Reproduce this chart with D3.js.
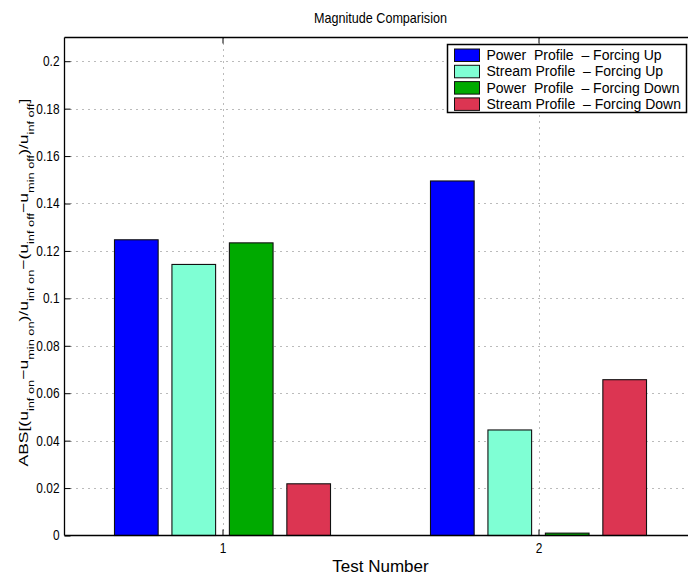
<!DOCTYPE html>
<html>
<head>
<meta charset="utf-8">
<script src="https://cdn.jsdelivr.net/npm/d3@7"></script>
<style>
  html, body { margin: 0; padding: 0; background: #fff; }
  svg { display: block; font-family: "Liberation Sans", Arial, Helvetica, sans-serif; }
  text { white-space: pre; }
</style>
</head>
<body>
<svg id="chart" width="688" height="580"></svg>
<script>
// ---- data ----
const categories = [1, 2];
const seriesNames = [
  "Power  Profile  \u2013 Forcing Up",
  "Stream Profile  \u2013 Forcing Up",
  "Power  Profile  \u2013 Forcing Down",
  "Stream Profile  \u2013 Forcing Down"
];
const powerUp    = [0.1247, 0.1495];
const streamUp   = [0.1143, 0.0445];
const powerDown  = [0.1234, 0.0010];
const streamDown = [0.0218, 0.0657];
const seriesColors = ["#0000ff", "#7fffd4", "#00aa00", "#dc3552"];
const yTicks = [0, 0.02, 0.04, 0.06, 0.08, 0.1, 0.12, 0.14, 0.16, 0.18, 0.2];
const xTicks = [1, 2];
const titleText = "Magnitude Comparision";
const xLabelText = "Test Number";

const seriesValues = [powerUp, streamUp, powerDown, streamDown];

// ---- layout ----
const svg = d3.select("#chart");
const mLeft = 64.5, mRight = 696.5, mTop = 37.5, mBottom = 535.5;
const squeeze = 0.85;

const x = d3.scaleLinear().domain([0.5, 2.5]).range([mLeft, mRight]);
const y = d3.scaleLinear().domain([0, 0.21]).range([mBottom, mTop]);

const groupWidth = Math.min(0.8, 4 / (4 + 1.5));
const slot = groupWidth / 4;
const barW = slot * 0.76;

// grid lines
const grid = svg.append("g");
grid.selectAll("line.gy").data(yTicks.filter(d => d > 0)).join("line")
  .attr("x1", mLeft).attr("x2", mRight)
  .attr("y1", d => Math.round(y(d)) + 0.5).attr("y2", d => Math.round(y(d)) + 0.5)
  .attr("stroke", "#777").attr("stroke-width", 1).attr("stroke-dasharray", "1,5");
grid.selectAll("line.gx").data(xTicks).join("line")
  .attr("x1", d => Math.round(x(d)) + 0.5).attr("x2", d => Math.round(x(d)) + 0.5)
  .attr("y1", mTop).attr("y2", mBottom)
  .attr("stroke", "#777").attr("stroke-width", 1).attr("stroke-dasharray", "1,5");

// bars
const bars = svg.append("g");
seriesValues.forEach((vals, si) => {
  bars.selectAll(null).data(vals.map((v, i) => ({ c: categories[i], v }))).join("rect")
    .attr("x", d => x(d.c + (si - 1.5) * slot - barW / 2))
    .attr("width", d => x(d.c + barW / 2) - x(d.c - barW / 2))
    .attr("y", d => y(d.v))
    .attr("height", d => y(0) - y(d.v))
    .attr("fill", seriesColors[si])
    .attr("stroke", "#111").attr("stroke-width", 1.1);
});

// axes (box)
const yAxis = d3.axisLeft(y).tickValues(yTicks).tickSize(-6).tickPadding(5)
  .tickFormat(d => d === 0 ? "0" : String(+d.toFixed(2)));
const gy = svg.append("g").attr("transform", `translate(${mLeft},0)`).call(yAxis);
gy.select(".domain").remove();
gy.selectAll("text").attr("font-size", 14).attr("fill", "#000")
  .attr("font-family", "Liberation Sans, Arial, sans-serif")
  .attr("x", -5 / squeeze).attr("transform", `scale(${squeeze},1)`);
gy.selectAll(".tick line").attr("stroke", "#000");

const xAxis = d3.axisBottom(x).tickValues(xTicks).tickSize(-6).tickPadding(8)
  .tickFormat(d3.format("d"));
const gx = svg.append("g").attr("transform", `translate(0,${mBottom})`).call(xAxis);
gx.select(".domain").remove();
gx.selectAll("text").attr("font-size", 14).attr("fill", "#000")
  .attr("font-family", "Liberation Sans, Arial, sans-serif")
  .attr("transform", `scale(${squeeze},1)`);
gx.selectAll(".tick line").attr("stroke", "#000");

const xTop = d3.axisTop(x).tickValues(xTicks).tickSize(-6).tickFormat("");
const gxt = svg.append("g").attr("transform", `translate(0,${mTop})`).call(xTop);
gxt.select(".domain").remove();
gxt.selectAll(".tick line").attr("stroke", "#000");

svg.append("line").attr("x1", mLeft).attr("x2", mRight).attr("y1", mBottom).attr("y2", mBottom)
  .attr("stroke", "#000").attr("stroke-width", 1.3);
svg.append("line").attr("x1", mLeft).attr("x2", mRight).attr("y1", mTop).attr("y2", mTop)
  .attr("stroke", "#000").attr("stroke-width", 1.3);
svg.append("line").attr("x1", mLeft).attr("x2", mLeft).attr("y1", mTop).attr("y2", mBottom)
  .attr("stroke", "#000").attr("stroke-width", 1.3);

// title and labels
const cx = (mLeft + mRight) / 2;
svg.append("text").attr("transform", `translate(${cx},23) scale(0.9,1)`)
  .attr("text-anchor", "middle").attr("font-size", 14).text(titleText);
svg.append("text").attr("x", cx).attr("y", 572).attr("text-anchor", "middle")
  .attr("font-size", 17).text(xLabelText);

// y label with subscripts
const yl = svg.append("text")
  .attr("transform", `translate(27.5,${(mTop + mBottom) / 2 - 4}) rotate(-90) scale(1,0.74)`)
  .attr("text-anchor", "middle").attr("font-size", 17.5);
const parts = [
  ["ABS[(u", false], ["inf on", true], ["\u2212u", false], ["min on", true],
  [")/u", false], ["inf on", true], ["\u2212(u", false], ["inf off", true],
  ["\u2212u", false], ["min off", true], [")/u", false], ["inf off", true], ["]", false]
];
let wasSub = false;
parts.forEach(([t, sub]) => {
  const ts = yl.append("tspan").text(t);
  if (sub) { ts.attr("font-size", 12.8); if (!wasSub) ts.attr("dy", 9); }
  else if (wasSub) ts.attr("dy", -9);
  wasSub = sub;
});

// legend
const lg = svg.append("g");
const lx = 447.5, ly = 44.5, lw = 239, lh = 68;
lg.append("rect").attr("x", lx).attr("y", ly).attr("width", lw).attr("height", lh)
  .attr("fill", "#fff").attr("stroke", "#000").attr("stroke-width", 1.5);
seriesNames.forEach((name, i) => {
  const ry = ly + 10.5 + i * 16.3;
  lg.append("rect").attr("x", 454.5).attr("y", ry - 6).attr("width", 25).attr("height", 12.5)
    .attr("fill", seriesColors[i]).attr("stroke", "#111").attr("stroke-width", 1);
  lg.append("text").attr("x", 486.5).attr("y", ry + 5).attr("font-size", 14)
    .text(name);
});
</script>
</body>
</html>
